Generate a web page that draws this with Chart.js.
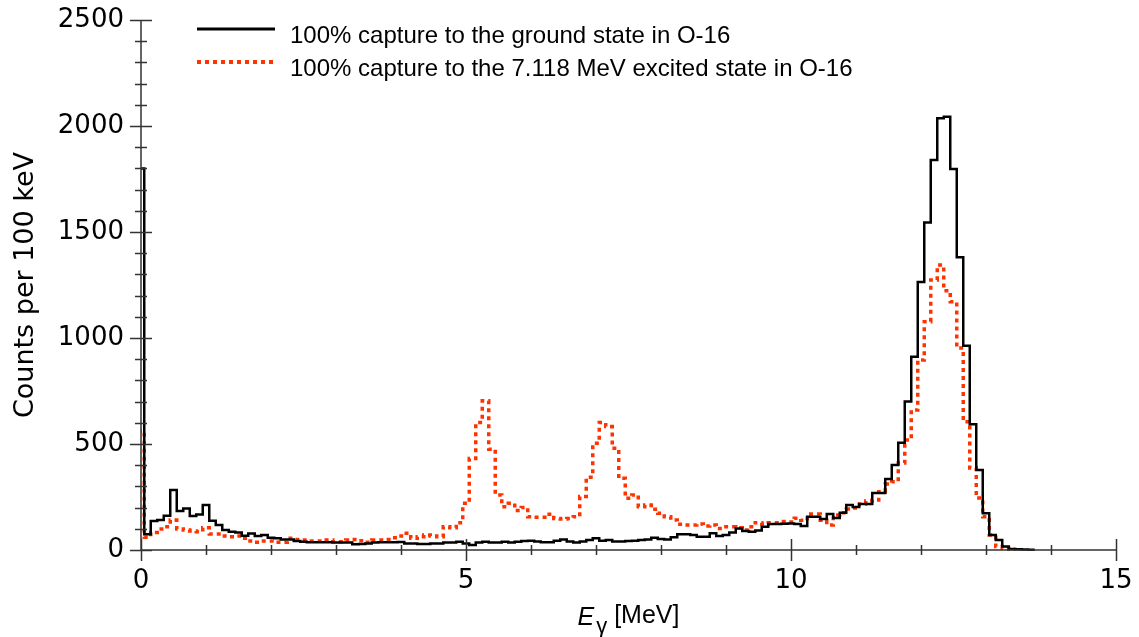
<!DOCTYPE html>
<html>
<head>
<meta charset="utf-8">
<script src="https://cdn.jsdelivr.net/npm/chart.js@4.4.1/dist/chart.umd.min.js"></script>
<style>
  html, body { margin: 0; padding: 0; background: #fff; }
  canvas { display: block; }
</style>
</head>
<body>
<canvas id="spectrum" width="1139" height="637"></canvas>
<script>
// gamma spectrum, 100 keV bins, bin k is centred on k * 0.1 MeV
const binWidth = 0.1;

const groundState = [
  1800, 74, 137, 142, 162, 283, 184, 196, 160, 168,
  212, 138, 118, 94, 86, 83, 67, 78, 66, 71,
  58, 55, 50, 50, 42, 39, 36, 36, 36, 36,
  35, 35, 35, 27, 28, 31, 35, 36, 36, 36,
  38, 31, 31, 28, 28, 31, 31, 35, 35, 39,
  31, 24, 35, 39, 35, 35, 39, 35, 39, 42,
  44, 40, 37, 37, 44, 50, 40, 35, 40, 47,
  55, 44, 47, 40, 40, 43, 44, 47, 50, 58,
  52, 50, 60, 74, 74, 71, 63, 63, 79, 66,
  71, 82, 102, 90, 86, 92, 110, 123, 123, 124,
  125, 123, 113, 157, 157, 146, 170, 151, 176, 212,
  203, 217, 217, 269, 269, 335, 401, 506, 700, 912,
  1264, 1545, 1840, 2036, 2044, 1797, 1381, 964, 593, 377,
  173, 71, 47, 16, 5, 3, 2, 1
];

const excitedState = [
  560, 60, 83, 99, 110, 141, 99, 94, 90, 86,
  105, 76, 76, 66, 63, 66, 55, 42, 36, 42,
  42, 36, 36, 55, 50, 47, 42, 42, 42, 47,
  39, 39, 47, 50, 44, 36, 47, 47, 50, 58,
  66, 79, 55, 63, 71, 66, 63, 110, 105, 129,
  220, 432, 601, 704, 475, 260, 204, 220, 186, 201,
  157, 154, 154, 169, 149, 146, 149, 157, 252, 343,
  503, 601, 582, 480, 338, 244, 260, 204, 212, 192,
  173, 157, 142, 121, 118, 118, 123, 113, 118, 102,
  110, 110, 105, 94, 110, 129, 123, 129, 129, 134,
  132, 150, 140, 170, 170, 140, 118, 165, 176, 193,
  198, 217, 231, 236, 275, 311, 322, 410, 519, 660,
  896, 1077, 1274, 1344, 1223, 1171, 953, 605, 387, 245,
  157, 71, 16, 8, 3
];

const seriesLabels = [
  '100% capture to the ground state in O-16',
  '100% capture to the 7.118 MeV excited state in O-16'
];

const xTicks = [0, 5, 10, 15];
const yTicks = [0, 500, 1000, 1500, 2000, 2500];
const xMinorStep = 1;
const yMinorStep = 100;

// bin left edges, stepped line holds each value until the next edge
function toSteps(values) {
  const pts = values.map((v, k) => ({ x: k * binWidth - binWidth / 2, y: v }));
  const last = pts[pts.length - 1];
  pts.push({ x: last.x + binWidth, y: last.y });
  return pts;
}

const axisMarks = {
  id: 'axisMarks',
  afterDatasetsDraw(chart) {
    const { ctx, chartArea: a, scales: { x, y } } = chart;
    ctx.save();
    ctx.strokeStyle = '#333';
    ctx.lineWidth = 1.5;
    ctx.beginPath();
    ctx.moveTo(a.left, a.top);
    ctx.lineTo(a.left, a.bottom);
    ctx.lineTo(a.right, a.bottom);
    for (let v = x.min; v <= x.max; v += xMinorStep) {
      const px = Math.round(x.getPixelForValue(v)) + 0.5;
      const len = xTicks.includes(v) ? 11 : 5;
      ctx.moveTo(px, a.bottom - len);
      ctx.lineTo(px, a.bottom + len);
    }
    for (let v = y.min; v <= y.max; v += yMinorStep) {
      const py = Math.round(y.getPixelForValue(v)) + 0.5;
      const len = yTicks.includes(v) ? 11 : 6;
      ctx.moveTo(a.left - len, py);
      ctx.lineTo(a.left + len, py);
    }
    ctx.stroke();
    ctx.restore();
  }
};

const legendBox = {
  id: 'legendBox',
  afterDraw(chart) {
    const { ctx } = chart;
    ctx.save();
    ctx.font = '24px "Liberation Sans", Arial, sans-serif';
    ctx.textBaseline = 'alphabetic';
    ctx.textAlign = 'left';
    chart.data.datasets.forEach((ds, i) => {
      const lineY = 29 + i * 33;
      ctx.strokeStyle = ds.borderColor;
      ctx.lineWidth = ds.borderWidth + 0.5;
      ctx.setLineDash(ds.borderDash || []);
      ctx.beginPath();
      ctx.moveTo(197, lineY);
      ctx.lineTo(275, lineY);
      ctx.stroke();
      ctx.fillStyle = '#000';
      ctx.fillText(ds.label, 290, lineY + 14);
    });
    ctx.restore();
  }
};

const xTitle = {
  id: 'xTitle',
  afterDraw(chart) {
    const { ctx, chartArea: a } = chart;
    const big = '25px "Liberation Sans", Arial, sans-serif';
    const bigItalic = 'italic ' + big;
    const sub = '22px "Liberation Sans", Arial, sans-serif';
    ctx.save();
    ctx.fillStyle = '#000';
    ctx.textBaseline = 'alphabetic';
    ctx.font = bigItalic;
    const wE = ctx.measureText('E').width;
    ctx.font = sub;
    const wG = ctx.measureText('\u03b3').width;
    ctx.font = big;
    const wU = ctx.measureText(' [MeV]').width;
    let x0 = (a.left + a.right) / 2 - (wE + 2 + wG + wU) / 2;
    ctx.font = bigItalic;
    ctx.fillText('E', x0, 625);
    ctx.font = sub;
    ctx.fillText('\u03b3', x0 + wE + 2, 633);
    ctx.font = big;
    ctx.fillText(' [MeV]', x0 + wE + 2 + wG, 623);
    ctx.restore();
  }
};

const tickFont = { family: '"DejaVu Sans", sans-serif', size: 26 };

new Chart(document.getElementById('spectrum'), {
  type: 'line',
  data: {
    datasets: [
      {
        label: seriesLabels[0],
        data: toSteps(groundState),
        borderColor: '#000000',
        borderWidth: 2.5,
        stepped: true,
        pointRadius: 0,
        clip: { left: 0, top: 5, right: 5, bottom: 5 }
      },
      {
        label: seriesLabels[1],
        data: toSteps(excitedState),
        borderColor: '#ff3300',
        borderWidth: 3.5,
        borderDash: [4, 4],
        stepped: true,
        pointRadius: 0,
        clip: { left: 0, top: 5, right: 5, bottom: 5 }
      }
    ]
  },
  options: {
    responsive: false,
    animation: false,
    devicePixelRatio: 1,
    events: [],
    layout: { padding: { left: 0, right: 23, top: 20, bottom: 0 } },
    plugins: {
      legend: { display: false },
      tooltip: { enabled: false }
    },
    scales: {
      x: {
        type: 'linear',
        min: 0,
        max: 15,
        grid: { display: false, drawTicks: false },
        border: { display: false },
        afterBuildTicks: (scale) => { scale.ticks = xTicks.map((v) => ({ value: v })); },
        afterFit: (scale) => {
          scale.height = 87;
          scale.paddingLeft = 0;
          scale.paddingRight = 0;
        },
        ticks: { color: '#000', font: tickFont, padding: 16, maxRotation: 0, autoSkip: false,
                 callback: (v) => String(v) }
      },
      y: {
        min: 0,
        max: 2500,
        grid: { display: false, drawTicks: false },
        border: { display: false },
        afterBuildTicks: (scale) => { scale.ticks = yTicks.map((v) => ({ value: v })); },
        afterFit: (scale) => {
          scale.width = 141;
          scale.paddingTop = 0;
          scale.paddingBottom = 0;
        },
        ticks: { color: '#000', font: tickFont, padding: 17, callback: (v) => String(v) },
        title: {
          display: true,
          text: 'Counts per 100 keV',
          color: '#000',
          font: { family: '"DejaVu Sans", sans-serif', size: 27 },
          padding: { top: 10, bottom: 0 }
        }
      }
    }
  },
  plugins: [axisMarks, legendBox, xTitle]
});
</script>
</body>
</html>
